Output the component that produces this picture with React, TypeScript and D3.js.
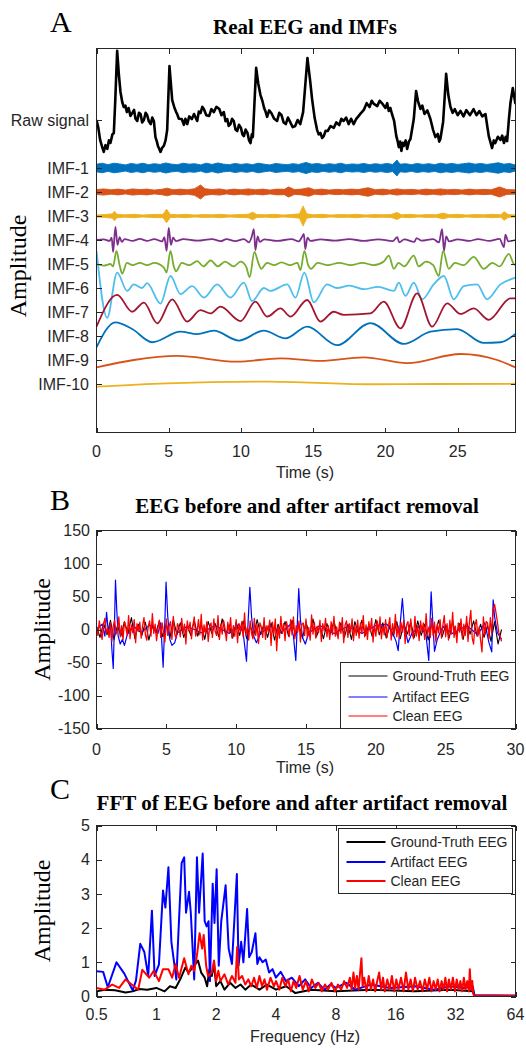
import React from 'react'
import * as d3 from 'd3'

type Pt = [number, number]

// ---------- panel A: raw EEG and its IMFs ----------
const channelNames = ['Raw signal', 'IMF-1', 'IMF-2', 'IMF-3', 'IMF-4', 'IMF-5', 'IMF-6', 'IMF-7', 'IMF-8', 'IMF-9', 'IMF-10']
const channelOffsets = [1, -1, -2, -3, -4, -5, -6, -7, -8, -9, -10]
const channelColors = ['#000000', '#0072BD', '#D95319', '#EDB120', '#7E2F8E', '#77AC30', '#4DBEEE', '#A2142F', '#0072BD', '#D95319', '#EDB120']
const timeTicksA = [0, 5, 10, 15, 20, 25]

// [time s, amplitude] (amplitude in channel spacing units)
const rawSignal: Pt[] = [
  [0, 0], [0.12, -0.3], [0.25, -0.83], [0.38, -1.1], [0.5, -1.33], [0.62, -1.05], [0.75, -1.2], [0.86, -0.85], [0.97, -0.95], [1.1, -0.6], [1.2, -0.54], [1.3, 0.83], [1.43, 2.88], [1.55, 1.88], [1.66, 1.17],
  [1.78, 0.75], [1.89, 0.54], [2.0, 0.6], [2.1, 0.33], [2.22, 0.5], [2.35, 0.17], [2.48, 0.3], [2.6, 0.42], [2.7, 0.05], [2.82, -0.04], [2.94, 0.3], [3.05, 0.25], [3.16, -0.1], [3.28, 0], [3.4, 0.3], [3.5, 0.21], [3.62, -0.05], [3.75, -0.17], [3.86, 0.1], [3.97, -0.04],
  [4.08, -0.71], [4.18, -0.9], [4.25, -1.08], [4.34, -1.2], [4.43, -1.33], [4.55, -1.15], [4.66, -1.08], [4.78, -0.85], [4.89, -0.42], [5.05, 2.25], [5.24, 0.83], [5.4, 0.5], [5.5, 0.35], [5.58, 0.25], [5.7, 0.05], [5.9, 0.04], [6.05, -0.2],
  [6.15, 0.05], [6.28, -0.17], [6.42, 0.15], [6.6, 0.04], [6.75, 0.25], [6.97, -0.04], [7.08, 0.35], [7.2, 0.29], [7.32, 0.55], [7.43, 0.46], [7.6, 0.2], [7.8, 0.17], [7.95, 0.45], [8.12, 0.33], [8.3, 0.55], [8.5, 0.46], [8.65, 0.2], [8.81, 0.33], [8.93, -0.05], [9.05, 0.04],
  [9.15, -0.25], [9.27, -0.17], [9.38, 0.05], [9.5, -0.04], [9.62, -0.4], [9.74, -0.46], [9.86, -0.2], [10.0, -0.33], [10.1, -0.6], [10.2, -0.67], [10.32, -0.4], [10.45, -0.54], [10.56, -0.85], [10.66, -0.96], [10.75, -0.6], [10.82, -0.71], [11.05, 2.17], [11.2, 1.5],
  [11.35, 1.04], [11.48, 0.8], [11.6, 0.5], [11.7, 0.35], [11.81, 0.13], [11.95, 0.4], [12.1, 0.29], [12.3, 0.05], [12.5, -0.04], [12.65, 0.3], [12.8, 0.21], [12.95, -0.1], [13.1, -0.17], [13.25, 0.1], [13.4, -0.08], [13.58, -0.3], [13.75, -0.25], [13.92, 0], [14.1, -0.17],
  [14.3, 0.33], [14.6, 2.58], [14.78, 1.67], [14.93, 0.83], [15.1, 0.08], [15.27, -0.42], [15.38, -0.6], [15.5, -0.54], [15.62, -0.75], [15.73, -0.67], [15.86, -0.45], [16.0, -0.46], [16.2, -0.25], [16.42, -0.33],
  [16.6, -0.1], [16.8, -0.21], [16.95, 0.05], [17.1, -0.04], [17.28, 0.1], [17.45, -0.17], [17.62, 0.05], [17.8, -0.17], [17.98, 0.05], [18.15, 0.17], [18.32, 0.3], [18.5, 0.42], [18.7, 0.7], [18.9, 0.54], [19.05, 0.8], [19.2, 0.67], [19.43, 0.58], [19.6, 0.8], [19.8, 0.67],
  [20.0, 0.5], [20.12, 0.7], [20.23, 0.38], [20.34, 0.5], [20.45, 0.25], [20.6, -0.04], [20.75, -0.67], [20.85, -0.9], [20.92, -1.13], [21.02, -0.9], [21.1, -1.29], [21.2, -0.95], [21.27, -1.08], [21.4, -0.85], [21.5, -1.21], [21.62, -0.9], [21.73, -0.79],
  [21.96, 0.04], [22.12, 1.21], [22.25, 0.79], [22.42, 0.46], [22.55, 0.6], [22.7, 0.25], [22.9, 0.4], [23.11, 0.04], [23.3, -0.42], [23.46, -0.71], [23.62, -0.58], [23.72, -0.9], [23.8, -0.79],
  [23.99, -0.08], [24.2, 1.92], [24.35, 1.04], [24.5, 0.54], [24.65, 0.3], [24.8, 0.45], [25.0, 0.2], [25.19, 0.38], [25.4, 0.15], [25.6, 0.41], [25.85, 0.2], [26.1, 0.45], [26.3, 0.2], [26.5, 0.37], [26.7, 0.15], [26.92, 0.25],
  [27.15, -0.67], [27.38, -1.17], [27.5, -0.85], [27.6, -0.96], [27.78, -0.7], [27.96, -0.83], [28.08, -0.65], [28.2, -0.96], [28.32, -0.7], [28.42, -0.88], [28.55, 0.08], [28.65, 0.71], [28.81, 1.33], [29.0, 0.67],
]

// noisy IMFs: [time s, half width of the band]
const imf1Band: Pt[] = [
  [0, 0.16], [0.4, 0.2], [0.8, 0.14], [1.2, 0.2], [1.6, 0.17], [2.0, 0.13], [2.4, 0.19], [2.8, 0.15], [3.2, 0.2], [3.6, 0.14],
  [4.0, 0.18], [4.4, 0.15], [4.8, 0.21], [5.2, 0.16], [5.6, 0.14], [6.0, 0.2], [6.4, 0.16], [6.8, 0.18], [7.2, 0.13], [7.6, 0.2],
  [8.0, 0.15], [8.4, 0.21], [8.8, 0.16], [9.2, 0.14], [9.6, 0.19], [10.0, 0.15], [10.4, 0.18], [10.8, 0.14], [11.2, 0.2], [11.6, 0.16],
  [12.0, 0.13], [12.4, 0.19], [12.8, 0.16], [13.2, 0.14], [13.6, 0.18], [14.0, 0.15], [14.5, 0.23], [14.9, 0.16], [15.3, 0.19], [15.7, 0.14],
  [16.1, 0.18], [16.5, 0.15], [16.9, 0.2], [17.3, 0.14], [17.7, 0.17], [18.1, 0.15], [18.5, 0.19], [18.9, 0.14], [19.3, 0.18], [19.7, 0.15],
  [20.1, 0.19], [20.5, 0.15], [20.8, 0.33], [21.0, 0.16], [21.4, 0.18], [21.8, 0.14], [22.2, 0.19], [22.6, 0.15], [23.0, 0.18], [23.4, 0.14],
  [23.8, 0.2], [24.2, 0.16], [24.6, 0.19], [25.0, 0.15], [25.4, 0.18], [25.8, 0.21], [26.2, 0.16], [26.6, 0.19], [27.0, 0.15], [27.4, 0.18],
  [27.8, 0.22], [28.2, 0.16], [28.6, 0.19], [29, 0.12],
]
const imf2Band: Pt[] = [
  [0, 0.1], [0.5, 0.13], [1.0, 0.09], [1.5, 0.12], [2.0, 0.08], [2.5, 0.13], [3.0, 0.1], [3.5, 0.12], [4.0, 0.08], [4.5, 0.11],
  [4.9, 0.16], [5.3, 0.09], [5.8, 0.12], [6.3, 0.09], [6.8, 0.14], [7.2, 0.29], [7.5, 0.14], [8.0, 0.1], [8.5, 0.13], [9.0, 0.08],
  [9.5, 0.12], [10.0, 0.09], [10.5, 0.13], [11.0, 0.09], [11.5, 0.12], [12.0, 0.08], [12.5, 0.12], [13.0, 0.11], [13.3, 0.21], [13.7, 0.1],
  [14.2, 0.12], [14.7, 0.18], [15.1, 0.09], [15.6, 0.12], [16.1, 0.08], [16.6, 0.11], [17.1, 0.09], [17.6, 0.12], [18.1, 0.1], [18.8, 0.18],
  [19.3, 0.09], [19.8, 0.12], [20.3, 0.08], [20.8, 0.13], [21.3, 0.09], [21.8, 0.11], [22.3, 0.08], [22.8, 0.12], [23.3, 0.09], [23.8, 0.13],
  [24.3, 0.09], [24.8, 0.11], [25.3, 0.08], [25.8, 0.12], [26.3, 0.09], [26.8, 0.11], [27.3, 0.09], [27.9, 0.21], [28.4, 0.1], [29, 0.09],
]
const imf3Band: Pt[] = [
  [0, 0.04], [0.6, 0.06], [1.1, 0.09], [1.25, 0.2], [1.4, 0.07], [2, 0.05], [2.6, 0.07], [3.2, 0.04], [3.8, 0.06], [4.6, 0.07],
  [4.85, 0.28], [5.1, 0.07], [5.6, 0.05], [6.2, 0.07], [6.8, 0.04], [7.4, 0.06], [8.0, 0.05], [8.6, 0.07], [9.2, 0.04], [9.8, 0.06],
  [10.5, 0.07], [10.8, 0.16], [11.1, 0.06], [11.7, 0.05], [12.3, 0.07], [12.9, 0.04], [13.5, 0.06], [14.05, 0.09], [14.3, 0.42], [14.55, 0.09],
  [15, 0.05], [15.6, 0.07], [16.2, 0.04], [16.8, 0.06], [17.4, 0.05], [18.0, 0.07], [18.6, 0.04], [19.2, 0.06], [19.8, 0.05], [20.4, 0.06],
  [20.8, 0.15], [21.1, 0.05], [21.7, 0.07], [22.3, 0.04], [22.9, 0.06], [23.5, 0.05], [24.0, 0.12], [24.4, 0.05], [25, 0.07], [25.6, 0.04],
  [26.2, 0.06], [26.8, 0.05], [27.4, 0.07], [28.0, 0.05], [28.2, 0.18], [28.5, 0.06], [29, 0.04],
]

const imf4: Pt[] = [
  [0, 0], [0.5, 0.03], [0.9, -0.04], [1.05, 0.1], [1.15, -0.5], [1.31, 0.55], [1.45, -0.2], [1.6, 0.12], [1.75, -0.08], [1.95, 0.04],
  [2.5, -0.04], [3.0, 0.05], [3.5, -0.04], [4.0, 0.04], [4.55, -0.06], [4.7, 0.12], [4.85, -0.45], [5.0, 0.5], [5.15, -0.2], [5.3, 0.1],
  [5.5, -0.05], [6.0, 0.04], [7.0, -0.03], [8.0, 0.04], [8.6, -0.05], [9.0, 0.04], [9.6, -0.05], [10.2, 0.04], [10.55, -0.1], [10.75, 0.15],
  [10.89, 0.45], [11.0, -0.42], [11.15, 0.15], [11.3, -0.08], [11.6, 0.03], [12.5, -0.04], [13.5, 0.04], [14.0, -0.06], [14.2, 0.1], [14.35, 0.25],
  [14.45, -0.38], [14.6, 0.1], [14.8, -0.04], [15.5, 0.03], [16.5, -0.03], [17.5, 0.04], [18.5, -0.04], [19.5, 0.03], [20.5, -0.05], [20.81, 0.12],
  [20.95, -0.1], [21.3, 0.03], [22.0, -0.08], [22.15, 0.08], [22.5, -0.03], [23.3, 0.04], [23.7, -0.1], [23.92, 0.45], [24.05, -0.45], [24.2, 0.15],
  [24.4, -0.06], [25, 0.03], [25.8, -0.04], [26.4, 0.04], [27.2, -0.04], [27.9, 0.05], [28.2, -0.3], [28.3, 0.22], [28.5, -0.06], [29, 0],
]
const imf5: Pt[] = [
  [0, 0], [0.5, -0.07], [0.97, 0], [1.15, -0.1], [1.38, 0.55], [1.6, -0.05], [1.78, -0.4], [2.1, 0.05], [2.5, -0.05], [3.0, 0.05],
  [3.5, -0.05], [4.0, 0.05], [4.66, -0.15], [4.85, -0.35], [5.12, 0.55], [5.35, -0.1], [5.5, -0.3], [5.9, 0.05], [6.4, -0.05], [6.97, 0.12],
  [7.4, -0.1], [7.9, 0.15], [8.4, -0.1], [8.9, 0.1], [9.5, -0.1], [9.97, 0.1], [10.35, -0.1], [10.6, -0.55], [10.93, 0.5], [11.2, 0.05],
  [11.4, -0.2], [11.8, 0.05], [12.3, -0.05], [12.8, 0.07], [13.4, -0.05], [13.9, 0.05], [14.12, -0.25], [14.39, 0.55], [14.65, -0.05], [14.85, -0.2],
  [15.3, 0.05], [16, -0.05], [16.8, 0.05], [17.6, -0.05], [18.4, 0.05], [19.2, -0.05], [19.88, 0.1], [20.23, 0.35], [20.58, -0.2], [20.9, 0.05],
  [21.3, -0.1], [21.96, 0.35], [22.3, -0.1], [22.8, 0.1], [23.3, -0.05], [23.69, -0.5], [23.99, 0.55], [24.38, -0.2], [24.8, 0.05], [25.4, -0.05],
  [26.11, 0.3], [26.8, -0.2], [27.4, 0.05], [27.9, -0.1], [28.54, 0.42], [28.88, 0], [29, -0.05],
]
const imf6: Pt[] = [
  [0, 1.55], [0.74, -1.24], [1.43, 0.64], [2.12, -0.12], [2.58, 0.15], [3.16, 0], [3.5, 0.2], [4.43, -0.65], [5.12, 0.5], [5.81, -0.25],
  [6.62, 0.08], [7.43, -0.4], [8.35, 0.15], [9.27, -0.4], [10.2, 0.22], [10.77, -0.55], [11.58, 0], [12.04, -0.12], [13.2, 0.15], [13.77, -0.4],
  [14.39, 0.64], [15.04, -0.6], [15.96, 0.15], [16.65, 0], [17.5, 0.1], [18.5, -0.05], [19.5, 0.05], [20.58, -0.12], [20.92, 0.22], [21.38, -0.33],
  [21.96, 0.22], [22.54, -0.47], [23.34, 0.15], [24.04, 0.5], [24.73, -0.47], [25.42, 0.08], [26.34, 0.15], [27.03, -0.47], [27.96, 0.15], [28.65, 0.36],
  [29, 0.43],
]
const imf7: Pt[] = [
  [0, -0.61], [1.43, 0.71], [2.47, 0.01], [3.28, 0.39], [4.2, -0.47], [5.24, 0.53], [6.27, -0.4], [7.2, 0.08], [7.89, -0.06], [8.58, 0.22],
  [9.97, -0.38], [11.0, 0.43], [11.81, -0.19], [12.73, 0.15], [13.43, -0.19], [14.58, 0.5], [15.5, -0.4], [16.42, 0.01], [17.12, -0.12], [18.96, -0.06],
  [19.88, 0.43], [21.04, -0.68], [22.19, 0.78], [23.23, -0.61], [24.27, 0.36], [25.19, -0.08], [26.11, 0.15], [27.15, -0.33], [28.65, 0.57], [29, 0.57],
]
const imf8: Pt[] = [
  [0, -0.47], [1.31, 0.57], [2.47, 0.29], [3.85, -0.26], [5.81, 0.18], [6.97, 0.08], [8.12, 0.22], [9.85, -0.19], [11.58, 0.22], [13.08, -0.1],
  [14.58, 0.39], [16.65, -0.38], [18.96, 0.54], [21.27, -0.33], [23.11, 0.18], [24.96, 0.29], [26.8, -0.29], [27.96, -0.26], [29, 0.08],
]
const imf9: Pt[] = [
  [0, -0.31], [2.58, 0], [5.58, 0.17], [9.73, -0.07], [12.73, 0.07], [15.5, -0.04], [18.5, 0.11], [21.5, -0.13], [25.19, 0.25], [27.73, 0], [29, -0.31],
]
const imf10: Pt[] = [
  [0, -0.11], [4.85, 0.03], [11.81, 0.1], [18.73, -0.01], [23.34, 0], [29, 0.01],
]

// ---------- panel B: EEG before / after artifact removal ----------
const timeTicksB = [0, 5, 10, 15, 20, 25, 30]
const ampTicksB = [-150, -100, -50, 0, 50, 100, 150]
const legendNames = ['Ground-Truth EEG', 'Artifact EEG', 'Clean EEG']
const legendColors = ['#000000', '#0000FF', '#FF0000']

// ground truth, sampled every 0.25 s
const groundTruthStep = 0.25
const groundTruthEEG = [
  5, -12, 10, -8, 14, -15, 6, -10, 12, -6, 18, -14, 8, -9, 11, -16, 7, -5, 13, -11,
  9, -13, 15, -7, 10, -12, 6, -9, 14, -10, 8, -15, 12, -6, 9, -11, 16, -8, 7, -13,
  11, -9, 13, -14, 6, -10, 15, -7, 9, -12, 10, -16, 8, -6, 12, -10, 14, -9, 7, -13,
  11, -8, 16, -11, 6, -14, 9, -7, 13, -10, 10, -12, 8, -15, 12, -6, 14, -9, 7, -11,
  15, -8, 10, -13, 6, -10, 12, -14, 9, -7, 11, -12, 13, -9, 8, -16, 10, -6, 14, -11,
  7, -13, 12, -8, 9, -15, 11, -7, 13, -10, 8, -12, 6, -18, 12, -22, 0,
]
// artifact EEG: [time s, amplitude]
const artifactEEG: Pt[] = [
  [0, 0], [0.4, 8], [0.6, -10], [0.72, 26], [0.85, -5], [1.0, 10], [1.1, -30], [1.2, -59], [1.3, 20], [1.36, 75],
  [1.45, 30], [1.55, -10], [1.7, -22], [1.85, -15], [2.0, -24], [2.2, -8], [2.6, 6], [3.2, -5], [3.8, 7], [4.4, -6],
  [4.6, 10], [4.77, -57], [4.9, 15], [4.98, 72], [5.1, 20], [5.25, -15], [5.4, -24], [5.6, -20], [5.8, -5], [6.5, 5],
  [7.5, -5], [8.5, 6], [9.5, -6], [10.2, 8], [10.5, -5], [10.74, -48], [10.85, 10], [10.98, 64], [11.1, 20], [11.25, -10],
  [11.45, -20], [11.7, -8], [12.4, 6], [13.2, -5], [13.9, 8], [14.1, -10], [14.27, -47], [14.38, 10], [14.48, 62], [14.6, 15],
  [14.75, -12], [14.95, -22], [15.2, -5], [16, 6], [17, -6], [18, 5], [19, -6], [20, 6], [20.8, 8], [21.2, -5],
  [21.45, -18], [21.6, -32], [21.75, 10], [21.9, 47], [22.05, 5], [22.3, -20], [22.6, -5], [23.2, 6], [23.6, -10], [23.79, -47],
  [23.88, 10], [23.96, 57], [24.08, 10], [24.2, -33], [24.4, -15], [24.8, 5], [25.5, -6], [26.5, 6], [27.3, -8], [27.8, 10],
  [28.1, -20], [28.3, -34], [28.4, 45], [28.5, 20], [28.7, -5], [29.0, -15],
]
// clean EEG, sampled every 0.1 s
const cleanStep = 0.1
const cleanEEG = [
  4, -9, 13, -3, -15, 8, 17, -6, 2, -12, 10, -18, 5, 14, -7, -2, 19, -11, 6, -16,
  12, 3, -9, 21, -14, 7, -5, 15, -20, 9, -3, 11, -13, 6, 18, -8, -16, 4, 13, -10,
  24, -6, 8, -17, 2, 14, -12, 10, -4, -19, 16, -9, 5, 12, -15, 20, -7, -13, 9, 3,
  -11, 17, -5, 8, -22, 13, -2, 11, -14, 6, 19, -10, -4, 15, -8, 23, -16, 7, -6, 12,
  -18, 4, 10, -12, 16, -3, -9, 21, -15, 8, -7, 14, 2, -17, 11, -5, 18, -13, 6, -10,
  15, -20, 9, -4, 12, -11, 25, -8, 3, -16, 13, -6, -14, 17, -9, 7, -21, 10, 4, -12,
  18, -15, 6, -3, 14, -24, 11, -7, 16, -32, 5, -13, 20, -6, 9, -17, 12, 2, -11, 15,
  -8, 19, -14, 6, -4, 13, -19, 8, 10, -9, 16, -12, 3, -16, 22, -7, 11, -13, 5, -5,
  14, -18, 9, -2, 17, -11, 6, -15, 12, -8, 20, -10, 4, -14, 11, -6, 18, -20, 7, 13,
  -12, 9, -4, 16, -17, 5, -9, 14, -13, 10, -6, 21, -11, 7, -15, 12, -3, 17, -19, 8,
  -10, 13, -5, 19, -14, 6, -8, 15, -12, 4, 18, -16, 9, -7, 23, -11, 5, -13, 11, -4,
  14, -21, 7, 12, -9, 16, -6, -14, 20, -10, 6, -17, 13, -3, 10, -15, 24, -8, 4, -12,
  17, -9, 11, -19, 8, -5, 15, -13, 6, 21, -11, 9, -16, 14, -7, 26, -12, 5, -20, 10,
  -4, 16, -14, 8, -9, 20, -18, 11, 29, -13, -22, 7, 15, -10, 4, -16, -34, 19, -8, 12,
  10, -14, 18, -6, 30, 38, 26, 12, -4, -10, -18,
]

// ---------- panel C: spectra ----------
const freqTicks = [0.5, 1, 2, 4, 8, 16, 32, 64]
const ampTicksC = [0, 1, 2, 3, 4, 5]
// [frequency Hz, amplitude]
const groundTruthFFT: Pt[] = [
  [0.5, 0.15], [0.55, 0.2], [0.62, 0.18], [0.7, 0.12], [0.76, 0.15], [0.82, 0.22], [0.9, 0.2], [1.0, 0.25], [1.1, 0.15], [1.17, 0.3],
  [1.25, 0.25], [1.33, 0.55], [1.4, 0.85], [1.45, 0.7], [1.5, 0.8], [1.55, 0.9], [1.62, 1.05], [1.68, 0.7], [1.75, 0.55], [1.8, 0.3],
  [1.85, 0.8], [1.9, 0.6], [1.95, 0.95], [2.0, 0.3], [2.1, 0.45], [2.2, 0.2], [2.35, 0.4], [2.5, 0.25], [2.65, 0.35], [2.8, 0.2],
  [3.0, 0.35], [3.3, 0.2], [3.6, 0.35], [4.0, 0.2], [4.5, 0.3], [5.0, 0.1], [6, 0.2], [8, 0.15], [12, 0.2], [20, 0.15],
  [30, 0.2], [39, 0.15], [39.8, 0.03], [64, 0.02],
]
const artifactFFT: Pt[] = [
  [0.5, 0.74], [0.54, 0.72], [0.57, 0.27], [0.63, 1.0], [0.69, 0.67], [0.76, 0.18], [0.79, 0.47], [0.83, 1.54], [0.87, 1.3], [0.91, 0.6],
  [0.95, 2.51], [0.98, 0.6], [1.03, 0.93], [1.08, 3.1], [1.11, 2.6], [1.15, 3.78], [1.19, 1.6], [1.26, 0.5], [1.34, 3.9], [1.38, 4.07],
  [1.41, 2.45], [1.46, 3.06], [1.49, 2.45], [1.55, 0.5], [1.6, 4.07], [1.64, 2.45], [1.71, 4.18], [1.75, 2.2], [1.79, 2.05], [1.83, 2.2],
  [1.86, 0.45], [1.92, 3.3], [1.96, 2.15], [2.01, 3.72], [2.06, 0.9], [2.12, 2.2], [2.23, 3.25], [2.31, 1.4], [2.4, 0.95], [2.46, 2.1],
  [2.54, 3.58], [2.59, 0.9], [2.67, 1.6], [2.74, 1.0], [2.86, 2.56], [2.93, 1.15], [3.02, 1.3], [3.15, 1.85], [3.22, 0.95], [3.3, 1.15],
  [3.42, 1.0], [3.55, 1.08], [3.69, 0.7], [3.84, 0.8], [3.99, 0.55], [4.22, 0.72], [4.48, 0.45], [4.8, 0.55], [5.2, 0.3], [5.6, 0.5],
  [6, 0.25], [6.5, 0.4], [7, 0.2], [7.5, 0.35], [8, 0.25], [9, 0.4], [10, 0.2], [12, 0.35], [15, 0.25], [20, 0.3],
  [25, 0.2], [30, 0.3], [35, 0.25], [39, 0.3], [39.8, 0.04], [50, 0.03], [64, 0.02],
]
const cleanFFT: Pt[] = [
  [0.5, 0.25], [0.55, 0.2], [0.6, 0.35], [0.65, 0.25], [0.7, 0.5], [0.77, 0.3], [0.81, 0.2], [0.85, 0.78], [0.92, 0.55], [0.97, 0.75],
  [1.03, 0.45], [1.08, 0.8], [1.15, 0.8], [1.2, 0.55], [1.25, 0.95], [1.3, 0.55], [1.38, 1.12], [1.45, 0.65], [1.5, 0.9], [1.55, 0.75],
  [1.6, 1.2], [1.65, 1.85], [1.7, 1.4], [1.73, 1.8], [1.78, 0.9], [1.82, 0.6], [1.9, 0.7], [1.95, 1.05], [2.0, 0.45], [2.05, 0.75],
  [2.1, 0.45], [2.2, 0.65], [2.3, 0.35], [2.4, 0.6], [2.5, 0.4], [2.55, 1.45], [2.6, 0.5], [2.7, 0.6], [2.8, 0.35], [2.9, 0.5],
  [3.0, 0.3], [3.1, 0.55], [3.2, 0.25], [3.3, 0.6], [3.4, 0.3], [3.5, 0.5], [3.6, 0.2], [3.75, 0.55], [3.9, 0.3], [4.0, 0.45],
  [4.15, 0.2], [4.3, 0.55], [4.45, 0.3], [4.6, 0.5], [4.75, 0.15], [4.9, 0.45], [5.05, 0.25], [5.25, 0.6], [5.45, 0.2], [5.65, 0.45],
  [5.85, 0.15], [6.05, 0.5], [6.3, 0.25], [6.55, 0.4], [6.8, 0.15], [7.05, 0.35], [7.3, 0.2], [7.6, 0.4], [7.9, 0.15], [8.2, 0.35],
  [8.5, 0.2], [8.8, 0.45], [9.1, 0.25], [9.4, 0.55], [9.6, 0.2], [9.8, 0.7], [10.0, 0.25], [10.2, 0.6], [10.4, 0.2], [10.6, 0.75],
  [10.75, 1.12], [10.9, 0.3], [11.1, 0.55], [11.4, 0.15], [11.7, 0.6], [12.0, 0.2], [12.3, 0.5], [12.6, 0.15], [12.9, 0.45], [13.2, 0.7],
  [13.5, 0.2], [13.8, 0.55], [14.1, 0.15], [14.5, 0.5], [14.9, 0.2], [15.3, 0.6], [15.7, 0.15], [16.1, 0.5], [16.5, 0.2], [17, 0.55],
  [17.5, 0.15], [18, 0.7], [18.5, 0.2], [19, 0.5], [19.5, 0.15], [20, 0.55], [20.6, 0.2], [21.2, 0.45], [21.8, 0.15], [22.4, 0.5],
  [23, 0.2], [23.6, 0.55], [24.2, 0.15], [24.8, 0.45], [25.4, 0.2], [26, 0.5], [26.6, 0.15], [27.2, 0.45], [27.8, 0.2], [28.4, 0.55],
  [29, 0.15], [29.6, 0.5], [30.3, 0.2], [31, 0.55], [31.7, 0.15], [32.4, 0.5], [33.1, 0.2], [33.8, 0.45], [34.5, 0.15], [35.2, 0.55],
  [35.9, 0.2], [36.6, 0.45], [37.3, 0.15], [37.7, 0.8], [38.2, 0.2], [38.8, 0.45], [39.2, 0.1], [39.6, 0.02], [45, 0.02], [64, 0.02],
]

const sans = '"Liberation Sans", Arial, Helvetica, sans-serif'
const serif = '"Liberation Serif", "Times New Roman", Times, serif'
const ink = '#262626'

type Box = { left: number; right: number; top: number; bottom: number }

function Frame({ box, xs, ys }: { box: Box; xs: number[]; ys: number[] }) {
  const t = 5
  return (
    <g stroke={ink} strokeWidth={1} fill="none" shapeRendering="crispEdges">
      {xs.map((p, i) => (
        <g key={'x' + i}>
          <line x1={p} x2={p} y1={box.bottom} y2={box.bottom - t} />
          <line x1={p} x2={p} y1={box.top} y2={box.top + t} />
        </g>
      ))}
      {ys.map((p, i) => (
        <g key={'y' + i}>
          <line x1={box.left} x2={box.left + t} y1={p} y2={p} />
          <line x1={box.right} x2={box.right - t} y1={p} y2={p} />
        </g>
      ))}
      <rect x={box.left} y={box.top} width={box.right - box.left} height={box.bottom - box.top} />
    </g>
  )
}

function ClipDef({ id, box }: { id: string; box: Box }) {
  return (
    <clipPath id={id}>
      <rect x={box.left} y={box.top} width={box.right - box.left} height={box.bottom - box.top} />
    </clipPath>
  )
}

function Legend({ x, y, w, h, rows, lineW }: { x: number; y: number; w: number; h: number; rows: number[]; lineW: number }) {
  return (
    <g>
      <rect x={x} y={y} width={w} height={h} fill="#fff" stroke={ink} strokeWidth={1} shapeRendering="crispEdges" />
      {legendNames.map((n, i) => (
        <g key={n}>
          <line x1={x + 8} x2={x + 47} y1={rows[i]} y2={rows[i]} stroke={legendColors[i]} strokeWidth={lineW} />
          <text x={x + 52} y={rows[i]} dy="0.36em" fontFamily={sans} fontSize={14} fill={ink}>{n}</text>
        </g>
      ))}
    </g>
  )
}

export default function App() {
  // ----- panel A -----
  const boxA: Box = { left: 96.5, right: 515.5, top: 48.5, bottom: 432.5 }
  const xA = d3.scaleLinear().domain([0, 29]).range([boxA.left, boxA.right])
  const yA = d3.scaleLinear().domain([-12, 4]).range([432, 48])

  const lineAt = (off: number, curve: d3.CurveFactory) =>
    d3.line<Pt>().x(d => xA(d[0])).y(d => yA(off + d[1])).curve(curve)
  const bandAt = (off: number) =>
    d3.area<Pt>().x(d => xA(d[0])).y0(d => yA(off - d[1])).y1(d => yA(off + d[1]))

  const bands = [imf1Band, imf2Band, imf3Band]
  const smooth = [imf4, imf5, imf6, imf7, imf8, imf9, imf10]

  // ----- panel B -----
  const boxB: Box = { left: 96.5, right: 515.5, top: 530.5, bottom: 728.5 }
  const xB = d3.scaleLinear().domain([0, 30]).range([boxB.left, boxB.right])
  const yB = d3.scaleLinear().domain([-150, 150]).range([boxB.bottom, boxB.top])
  const lineB = d3.line<Pt>().x(d => xB(d[0])).y(d => yB(d[1]))
  const gtPts: Pt[] = groundTruthEEG.map((v, i) => [i * groundTruthStep, v])
  const cleanPts: Pt[] = cleanEEG.map((v, i) => [i * cleanStep, v])

  // ----- panel C -----
  const boxC: Box = { left: 96.5, right: 515.5, top: 825.5, bottom: 996.5 }
  const xC = d3.scaleLog().base(2).domain([0.5, 64]).range([boxC.left, boxC.right])
  const yC = d3.scaleLinear().domain([0, 5]).range([boxC.bottom, boxC.top])
  const lineC = d3.line<Pt>().x(d => xC(d[0])).y(d => yC(d[1]))

  return (
    <svg width={526} height={1048} style={{ position: 'absolute', left: 0, top: 0, background: '#fff' }}>
      <defs>
        <ClipDef id="clipA" box={boxA} />
        <ClipDef id="clipB" box={boxB} />
        <ClipDef id="clipC" box={boxC} />
      </defs>
      <rect width={526} height={1048} fill="#fff" />

      {/* ================= A ================= */}
      <text x={50} y={32} fontFamily={serif} fontSize={30}>A</text>
      <text x={305} y={34} textAnchor="middle" fontFamily={serif} fontWeight="bold" fontSize={21}>Real EEG and IMFs</text>
      <g clipPath="url(#clipA)" fill="none" strokeLinejoin="round">
        <path d={lineAt(channelOffsets[0], d3.curveLinear)(rawSignal) || ''} stroke={channelColors[0]} strokeWidth={2.6} />
        {bands.map((b, i) => (
          <path key={'b' + i} d={bandAt(channelOffsets[i + 1])(b) || ''} fill={channelColors[i + 1]} stroke={channelColors[i + 1]} strokeWidth={0.9} />
        ))}
        {smooth.map((s, i) => (
          <path key={'s' + i} d={lineAt(channelOffsets[i + 4], d3.curveMonotoneX)(s) || ''} stroke={channelColors[i + 4]} strokeWidth={1.8} />
        ))}
      </g>
      <Frame box={boxA} xs={timeTicksA.map(t => Math.round(xA(t)) + 0.5)} ys={channelOffsets.map(o => Math.round(yA(o)) + 0.5)} />
      {channelNames.map((n, i) => (
        <text key={n} x={89} y={yA(channelOffsets[i])} dy="0.36em" textAnchor="end" fontFamily={sans} fontSize={16} fill={ink}>{n}</text>
      ))}
      {timeTicksA.map(t => (
        <text key={t} x={xA(t)} y={457} textAnchor="middle" fontFamily={sans} fontSize={16} fill={ink}>{t}</text>
      ))}
      <text x={305} y={478} textAnchor="middle" fontFamily={sans} fontSize={16} fill={ink}>Time (s)</text>
      <text transform="translate(26,266) rotate(-90)" textAnchor="middle" fontFamily={serif} fontSize={24}>Amplitude</text>

      {/* ================= B ================= */}
      <text x={50} y={510} fontFamily={serif} fontSize={30}>B</text>
      <text x={307} y={513} textAnchor="middle" fontFamily={serif} fontWeight="bold" fontSize={21}>EEG before and after artifact removal</text>
      <g clipPath="url(#clipB)" fill="none" strokeLinejoin="round">
        <path d={lineB(gtPts) || ''} stroke={legendColors[0]} strokeWidth={1.1} />
        <path d={lineB(artifactEEG) || ''} stroke={legendColors[1]} strokeWidth={1.2} />
        <path d={lineB(cleanPts) || ''} stroke={legendColors[2]} strokeWidth={1.3} />
      </g>
      <Frame box={boxB} xs={timeTicksB.map(t => Math.round(xB(t)) + 0.5)} ys={ampTicksB.map(v => Math.round(yB(v)) + 0.5)} />
      <Legend x={340.5} y={662.5} w={175} h={66} rows={[676, 697, 716]} lineW={1} />
      {ampTicksB.map(v => (
        <text key={v} x={90} y={yB(v)} dy="0.36em" textAnchor="end" fontFamily={sans} fontSize={16} fill={ink}>{v}</text>
      ))}
      {timeTicksB.map(t => (
        <text key={t} x={xB(t)} y={755} textAnchor="middle" fontFamily={sans} fontSize={16} fill={ink}>{t}</text>
      ))}
      <text x={305} y={773} textAnchor="middle" fontFamily={sans} fontSize={16} fill={ink}>Time (s)</text>
      <text transform={`translate(50,${(boxB.top + boxB.bottom) / 2}) rotate(-90)`} textAnchor="middle" fontFamily={serif} fontSize={24}>Amplitude</text>

      {/* ================= C ================= */}
      <text x={50} y={799} fontFamily={serif} fontSize={30}>C</text>
      <text x={302} y={810} textAnchor="middle" fontFamily={serif} fontWeight="bold" fontSize={21}>FFT of EEG before and after artifact removal</text>
      <g clipPath="url(#clipC)" fill="none" strokeLinejoin="round">
        <path d={lineC(groundTruthFFT) || ''} stroke={legendColors[0]} strokeWidth={2} />
        <path d={lineC(artifactFFT) || ''} stroke={legendColors[1]} strokeWidth={2} />
        <path d={lineC(cleanFFT) || ''} stroke={legendColors[2]} strokeWidth={2} />
      </g>
      <Frame box={boxC} xs={freqTicks.map(f => Math.round(xC(f)) + 0.5)} ys={ampTicksC.map(v => Math.round(yC(v)) + 0.5)} />
      <Legend x={338.5} y={828.5} w={174} h={65} rows={[842, 862, 881]} lineW={2} />
      {ampTicksC.map(v => (
        <text key={v} x={90} y={yC(v)} dy="0.36em" textAnchor="end" fontFamily={sans} fontSize={16} fill={ink}>{v}</text>
      ))}
      {freqTicks.map(f => (
        <text key={f} x={xC(f)} y={1020} textAnchor="middle" fontFamily={sans} fontSize={16} fill={ink}>{f}</text>
      ))}
      <text x={305} y={1042} textAnchor="middle" fontFamily={sans} fontSize={16} fill={ink}>Frequency (Hz)</text>
      <text transform={`translate(50,${(boxC.top + boxC.bottom) / 2}) rotate(-90)`} textAnchor="middle" fontFamily={serif} fontSize={24}>Amplitude</text>
    </svg>
  )
}
